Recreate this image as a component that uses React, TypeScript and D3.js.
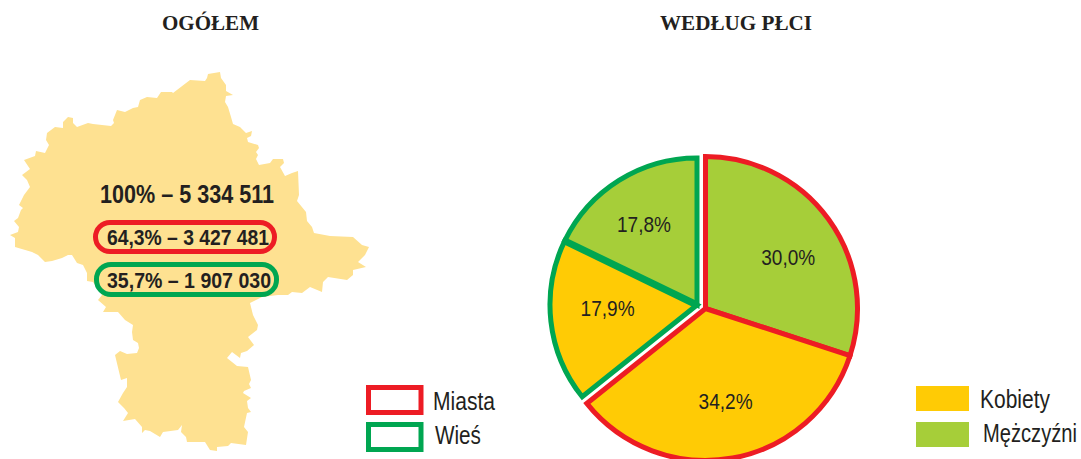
import * as d3 from 'd3';

const titles = ['OGÓŁEM', 'WEDŁUG PŁCI'];
const totalLabel = '100% – 5 334 511';
const ovalLabels = ['64,3% – 3 427 481', '35,7% – 1 907 030'];

const sliceValues = [30.0, 34.2, 17.9, 17.8];
const sliceLabels = ['30,0%', '34,2%', '17,9%', '17,8%'];
const sliceSex = ['Mężczyźni', 'Kobiety', 'Kobiety', 'Mężczyźni'];
const sliceArea = ['Miasta', 'Miasta', 'Wieś', 'Wieś'];

const areaNames = ['Miasta', 'Wieś'];
const sexNames = ['Kobiety', 'Mężczyźni'];

// outline of the region
const regionOutline: [number, number][] = [
  [190, 80], [205, 81], [207, 78], [208, 74], [220, 72], [221, 78], [226, 85], [226, 91], [233, 95], [226, 96],
  [225, 102], [228, 107], [231, 117], [233, 124], [240, 127], [246, 133], [252, 131], [251, 136], [247, 138],
  [248, 142], [258, 145], [259, 148], [256, 152], [258, 155], [256, 159], [259, 165], [270, 163], [273, 159],
  [283, 159], [284, 163], [280, 167], [285, 176], [292, 173], [298, 171], [299, 195], [297, 201], [306, 212],
  [307, 221], [312, 227], [314, 233], [330, 236], [353, 237], [362, 245], [369, 247], [365, 255], [358, 262],
  [366, 267], [353, 270], [353, 275], [347, 280], [328, 277], [323, 282], [322, 292], [310, 287], [302, 293],
  [292, 292], [288, 295], [278, 295], [262, 297], [250, 303], [253, 315], [258, 325], [257, 330], [248, 337],
  [254, 345], [247, 351], [241, 353], [240, 358], [232, 352], [227, 358], [237, 366], [248, 367], [251, 380],
  [249, 384], [251, 388], [244, 391], [243, 393], [251, 398], [247, 401], [248, 408], [251, 412], [247, 413],
  [244, 427], [248, 432], [246, 445], [231, 443], [228, 446], [217, 447], [217, 451], [210, 450], [205, 442],
  [187, 442], [186, 437], [181, 432], [182, 425], [178, 430], [163, 432], [160, 437], [150, 431], [145, 430],
  [142, 433], [142, 427], [135, 419], [123, 421], [128, 413], [124, 408], [118, 402], [123, 393], [127, 387],
  [127, 378], [121, 380], [115, 355], [120, 351], [127, 354], [137, 353], [139, 348], [138, 343], [133, 340],
  [132, 332], [133, 325], [125, 320], [118, 312], [103, 312], [106, 307], [98, 300], [102, 295], [93, 282],
  [87, 281], [87, 273], [83, 265], [77, 263], [72, 255], [68, 255], [62, 258], [52, 261], [45, 262], [38, 255],
  [32, 252], [15, 247], [15, 238], [10, 235], [18, 232], [19, 227], [14, 221], [18, 218], [21, 210], [23, 208],
  [19, 205], [24, 195], [30, 187], [27, 180], [22, 175], [30, 169], [24, 160], [35, 156], [36, 151], [45, 153],
  [49, 145], [46, 140], [47, 133], [55, 127], [63, 128], [63, 122], [68, 117], [73, 118], [73, 123], [77, 127],
  [88, 123], [93, 124], [111, 126], [114, 123], [113, 120], [117, 110], [125, 112], [133, 108], [138, 107],
  [140, 100], [147, 97], [157, 98], [161, 92], [172, 92], [173, 93],
];

const RED = '#ed1c24';
const GREEN = '#00a651';
const sans = '"Liberation Sans", sans-serif';
const ink = '#231f20';

// the small nudges the labels have from the slice centroid
const labelNudge: [number, number][] = [[5, 5], [3, -2], [6, -8], [-2, 0]];
// the reference sets its legend in a narrow face, so squeeze the installed one
const areaStretch = [0.81, 0.796];
const sexStretch = [0.807, 0.775];

export default function App() {
  const regionPath = d3.line().curve(d3.curveLinearClosed)(regionOutline);

  const areaColor = d3.scaleOrdinal<string, string>().domain(areaNames).range([RED, GREEN]);
  const sexColor = d3.scaleOrdinal<string, string>().domain(sexNames).range(['#ffcb05', '#a6ce39']);
  const legendY = d3.scalePoint<string>().domain(areaNames).range([400, 437]);
  const sexLegendY = d3.scalePoint<string>().domain(sexNames).range([398.5, 434.5]);

  const slices = d3.pie<number>().sort(null)(sliceValues);
  const arcs: Record<string, d3.Arc<any, d3.PieArcDatum<number>>> = {
    Miasta: d3.arc<d3.PieArcDatum<number>>().innerRadius(0).outerRadius(152),
    'Wieś': d3.arc<d3.PieArcDatum<number>>().innerRadius(0).outerRadius(147),
  };
  const labelArc = d3.arc<d3.PieArcDatum<number>>().innerRadius(96).outerRadius(96);
  const centers: Record<string, [number, number]> = { Miasta: [705.5, 308.5], 'Wieś': [697, 305] };

  const divider = d3.pointRadial(slices[3].startAngle, 146);
  const ruralCenter = centers['Wieś'];

  return (
    <svg width={1081} height={459} style={{ position: 'absolute', left: 0, top: 0, display: 'block' }}>
      <text x={162} y={30} textLength={97} lengthAdjust="spacingAndGlyphs" fontFamily="Liberation Serif" fontWeight="bold" fontSize={20} fill={ink}>{titles[0]}</text>
      <text x={660} y={30} textLength={152} lengthAdjust="spacingAndGlyphs" fontFamily="Liberation Serif" fontWeight="bold" fontSize={20} fill={ink}>{titles[1]}</text>

      <path d={regionPath ?? ''} fill="#fee191" />

      <text x={100} y={203} textLength={174} lengthAdjust="spacingAndGlyphs" fontFamily={sans} fontWeight="bold" fontSize={25} fill={ink}>{totalLabel}</text>

      {ovalLabels.map((label, i) => (
        <g key={label}>
          <rect x={95.5 + i} y={222.5 + i * 42} width={179 + i} height={29 + i} rx={14.5}
            fill="none" stroke={areaColor(areaNames[i])} strokeWidth={5} />
          <text x={107} y={245 + i * 43} textLength={162 + i * 2} lengthAdjust="spacingAndGlyphs" fontFamily={sans} fontWeight="bold" fontSize={21.5} fill={ink}>{label}</text>
        </g>
      ))}

      {slices.map((s, i) => {
        const [cx, cy] = centers[sliceArea[i]];
        return (
          <path key={sliceLabels[i]} d={arcs[sliceArea[i]](s) ?? ''} transform={`translate(${cx},${cy})`}
            fill={sexColor(sliceSex[i])} stroke={areaColor(sliceArea[i])} strokeWidth={5} strokeLinejoin="miter" />
        );
      })}
      <line x1={ruralCenter[0]} y1={ruralCenter[1]}
        x2={ruralCenter[0] + divider[0]} y2={ruralCenter[1] + divider[1]}
        stroke={GREEN} strokeWidth={7} />
      {slices.map((s, i) => {
        const [cx, cy] = centers[sliceArea[i]];
        const [lx, ly] = labelArc.centroid(s);
        return (
          <text key={sliceLabels[i]} x={cx + lx + labelNudge[i][0]} y={cy + ly + 8 + labelNudge[i][1]} textAnchor="middle"
            textLength={54} lengthAdjust="spacingAndGlyphs" fontFamily={sans} fontSize={22} fill={ink}>{sliceLabels[i]}</text>
        );
      })}

      {areaNames.map((name, i) => (
        <g key={name}>
          <rect x={368.5} y={(legendY(name) ?? 0) - 12.5} width={52.5} height={25}
            fill="#fff" stroke={areaColor(name)} strokeWidth={5} />
          <text transform={`translate(${433 + i * 2},${410 + i * 34}) scale(${areaStretch[i]},1)`}
            fontFamily={sans} fontSize={26} fill={ink}>{name}</text>
        </g>
      ))}
      {sexNames.map((name, i) => (
        <g key={name}>
          <rect x={916} y={(sexLegendY(name) ?? 0) - 12.5} width={53} height={25} fill={sexColor(name)} />
          <text transform={`translate(${980 + i * 3},${408 + i * 34}) scale(${sexStretch[i]},1)`}
            fontFamily={sans} fontSize={26} fill={ink}>{name}</text>
        </g>
      ))}
    </svg>
  );
}
